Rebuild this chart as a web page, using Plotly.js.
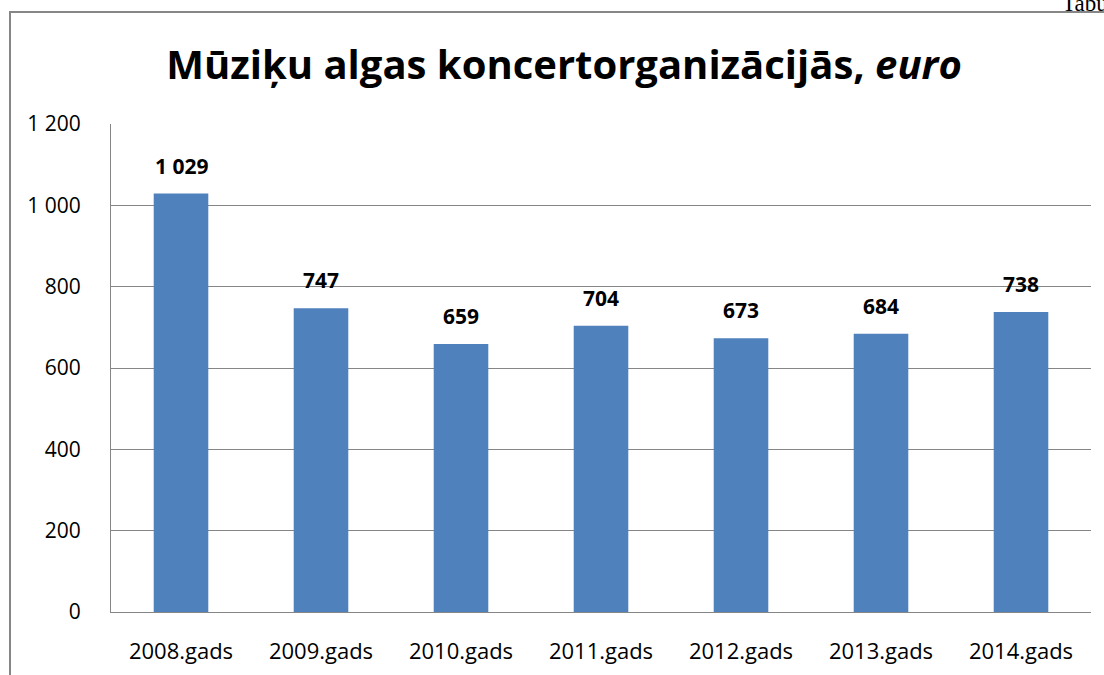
<!DOCTYPE html>
<html>
<head>
<meta charset="utf-8">
<script src="https://cdn.plot.ly/plotly-3.0.1.min.js"></script>
<style>html,body{margin:0;padding:0;background:#fff;}#chart{width:1104px;height:675px;}</style>
</head>
<body>
<div id="chart"></div>
<script>
var categories = ["2008.gads","2009.gads","2010.gads","2011.gads","2012.gads","2013.gads","2014.gads"];
var values = [1029, 747, 659, 704, 673, 684, 738];
var yTicks = [0, 200, 400, 600, 800, 1000, 1200];
var yTickLabels = ["0", "200", "400", "600", "800", "1 000", "1 200"];
var titleText = "<b>Mūziķu algas koncertorganizācijās, <i>euro</i></b>";

function fmt(v){ return String(v).replace(/\B(?=(\d{3})+(?!\d))/g, " "); }

var W = 1104, H = 675;
var mL = 111, mR = 13, mT = 124, mB = 63;
var pw = W - mL - mR, ph = H - mT - mB;
function px(x){ return (x - mL) / pw; }
function py(y){ return 1 + (mT - y) / ph; }

var font = "Open Sans, Noto Sans, sans-serif";

var annotations = values.map(function(v, i){
  return {x: categories[i], y: v, xref: "x", yref: "y", text: "<b>" + fmt(v) + "</b>",
    showarrow: false, yanchor: "bottom", yshift: 12,
    font: {family: font, size: 21, color: "#000"}};
});
annotations.push({x: px(1060), y: py(4), xref: "paper", yref: "paper", text: "Tabula",
  showarrow: false, xanchor: "left", yanchor: "middle",
  font: {family: "Liberation Serif, serif", size: 23, color: "#000"}});

var data = [{
  type: "bar", x: categories, y: values,
  marker: {color: "#4F81BD", line: {width: 0}},
  hoverinfo: "none"
}];

var layout = {
  width: W, height: H,
  margin: {l: mL, r: mR, t: mT, b: mB, pad: 0},
  paper_bgcolor: "#fff", plot_bgcolor: "#fff",
  showlegend: false,
  bargap: 0.61,
  title: {text: titleText, x: px(564), xref: "paper", xanchor: "center",
    y: 1 - 65 / H, yanchor: "middle",
    font: {family: font, size: 40, color: "#000"}},
  xaxis: {type: "category", showgrid: false, showline: true, linecolor: "#868686", linewidth: 1,
    ticks: "", tickfont: {family: font, size: 22, color: "#000"}, ticklabelstandoff: 20,
    fixedrange: true},
  yaxis: {range: [0, 1200], tickvals: yTicks, ticktext: yTickLabels, showgrid: true,
    gridcolor: "#868686", gridwidth: 1, showline: true, linecolor: "#868686", linewidth: 1,
    zeroline: false, ticks: "", tickfont: {family: font, size: 21, color: "#000"},
    ticklabelstandoff: 25, fixedrange: true},
  shapes: [{type: "rect", xref: "paper", yref: "paper", x0: px(10), x1: px(1130),
    y0: py(700), y1: py(12), line: {color: "#868686", width: 2}, fillcolor: "rgba(0,0,0,0)", layer: "below"}],
  annotations: annotations
};

Plotly.newPlot("chart", data, layout, {staticPlot: true, displayModeBar: false});
</script>
</body>
</html>
